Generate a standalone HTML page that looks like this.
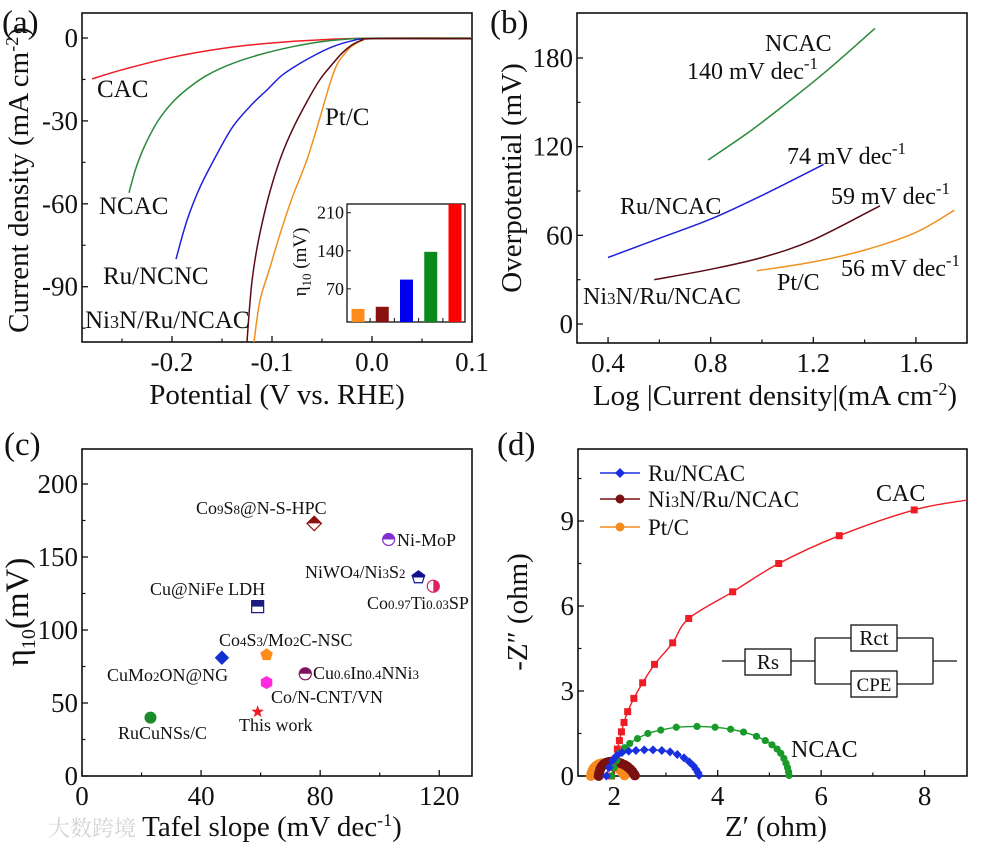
<!DOCTYPE html>
<html><head><meta charset="utf-8"><style>
html,body{margin:0;padding:0;background:#fff;}
svg{display:block;font-family:"Liberation Serif","Noto Serif CJK SC",serif;}
</style></head><body>
<svg id="fig" width="981" height="848" viewBox="0 0 981 848" xmlns="http://www.w3.org/2000/svg"></svg>
<script>
// ---- panel (a) data ----
const aCacX=[-0.28,-0.25,-0.2,-0.15,-0.1,-0.05,0,0.1];
const aCacY=[-14.8,-11.5,-7,-3.8,-1.8,-0.6,-0.1,0];
const aNcacX=[-0.243,-0.236,-0.226,-0.214,-0.2,-0.185,-0.165,-0.14,-0.11,-0.08,-0.05,-0.02,0,0.1];
const aNcacY=[-56,-47,-38,-30,-23.5,-18.5,-13.5,-9.3,-5.8,-3.2,-1.3,-0.3,-0.05,0];
const aRuX=[-0.196,-0.185,-0.172,-0.155,-0.139,-0.12,-0.105,-0.09,-0.072,-0.055,-0.039,-0.02,0,0.1];
const aRuY=[-80,-66,-54,-42,-32,-24,-18.8,-13.5,-9.2,-5.8,-3.1,-1,-0.3,-0.3];
const aNiX=[-0.125,-0.123,-0.12,-0.115,-0.108,-0.1,-0.09,-0.078,-0.065,-0.052,-0.04,-0.03,-0.02,-0.01,0,0.1];
const aNiY=[-110,-100,-88,-76,-64,-53,-42,-32,-23,-15,-9.6,-5.5,-2.5,-0.8,-0.2,-0.3];
const aPtX=[-0.118,-0.112,-0.102,-0.092,-0.08,-0.065,-0.053,-0.042,-0.035,-0.028,-0.022,-0.015,-0.008,0,0.1];
const aPtY=[-110,-95,-83,-71,-58,-44,-30,-16.4,-9.6,-6,-3.5,-1.8,-0.6,-0.2,-0.2];
const insetCats=["Pt/C","Ni3N/Ru/NCAC","Ru/NCAC","NCAC","CAC"];
const insetVals=[33,37,87,138,226];
const insetColors=["#ff8c1a","#8b1010","#0000ee","#0a8a1a","#ff0000"];
const insetTicks=[70,140,210];
// ---- panel (b) data ----
const bNcacX=[0.79,0.95,1.1,1.25,1.44]; const bNcacY=[111,130,150,171,200];
const bRuX=[0.40,0.6,0.8,1.0,1.24]; const bRuY=[45,58,71,87,108];
const bNiX=[0.58,0.8,1.0,1.2,1.46]; const bNiY=[30,37,45,57,80];
const bPtX=[0.98,1.2,1.4,1.6,1.75]; const bPtY=[36,42,50,62,77];
// ---- panel (c) data ----
const cNames=["RuCuNSs/C","CuMo2ON@NG","Cu@NiFe LDH","Co4S3/Mo2C-NSC","Co/N-CNT/VN","This work","Co9S8@N-S-HPC","Cu0.6In0.4NNi3","Ni-MoP","NiWO4/Ni3S2","Co0.97Ti0.03SP"];
const cTafel=[23,47,59,62,62,59,78,75,103,113,118];
const cEta=[40,81,116,83,64,44,173,70,162,136,130];
// ---- panel (d) data ----
const dCacX=[1.95,1.98,2.02,2.06,2.10,2.14,2.19,2.26,2.38,2.55,2.78,3.13,3.44,4.29,5.18,6.35,7.80,8.82];
const dCacY=[0,0.3,0.6,0.95,1.25,1.56,1.89,2.27,2.74,3.29,3.94,4.70,5.56,6.50,7.50,8.48,9.39,9.74];
const dNcacX=[1.95,2.0,2.05,2.1,2.2,2.3,2.45,2.65,2.9,3.2,3.6,3.95,4.25,4.5,4.75,4.92,5.05,5.15,5.22,5.28,5.32,5.35,5.37,5.38];
const dNcacY=[0,0.3,0.55,0.8,1.0,1.15,1.32,1.5,1.62,1.72,1.75,1.72,1.65,1.55,1.4,1.25,1.1,0.95,0.8,0.62,0.45,0.3,0.15,0.02];
const dRuX=[1.85,1.9,1.97,2.05,2.15,2.28,2.42,2.58,2.75,2.92,3.08,3.22,3.35,3.45,3.53,3.58,3.62,3.64];
const dRuY=[0,0.3,0.55,0.72,0.83,0.88,0.9,0.92,0.92,0.9,0.85,0.76,0.64,0.5,0.36,0.24,0.12,0.02];
const dNiX=[1.7,1.71,1.73,1.76,1.8,1.85,1.9,1.96,2.02,2.08,2.14,2.2,2.26,2.31,2.35,2.38,2.4];
const dNiY=[0,0.12,0.24,0.34,0.42,0.47,0.5,0.51,0.5,0.48,0.44,0.39,0.32,0.24,0.16,0.08,0.02];
const dPtX=[1.55,1.56,1.58,1.61,1.65,1.7,1.76,1.82,1.88,1.94,2.0,2.06,2.11,2.15,2.18,2.2];
const dPtY=[0,0.1,0.2,0.29,0.36,0.42,0.45,0.46,0.45,0.42,0.37,0.3,0.22,0.14,0.07,0.02];

const NS="http://www.w3.org/2000/svg";
const svg=document.getElementById('fig');
function mk(tag,attrs,parent){const e=document.createElementNS(NS,tag);for(const k in attrs)e.setAttribute(k,attrs[k]);(parent||svg).appendChild(e);return e;}
function lin(d0,d1,r0,r1){return v=>r0+(v-d0)*(r1-r0)/(d1-d0);}
function smooth(pts){let d="M"+pts[0][0].toFixed(1)+","+pts[0][1].toFixed(1);
 for(let i=0;i<pts.length-1;i++){const p0=pts[i-1]||pts[i],p1=pts[i],p2=pts[i+1],p3=pts[i+2]||p2;
 const c1=[p1[0]+(p2[0]-p0[0])/6,p1[1]+(p2[1]-p0[1])/6],c2=[p2[0]-(p3[0]-p1[0])/6,p2[1]-(p3[1]-p1[1])/6];
 d+=" C"+c1[0].toFixed(1)+","+c1[1].toFixed(1)+" "+c2[0].toFixed(1)+","+c2[1].toFixed(1)+" "+p2[0].toFixed(1)+","+p2[1].toFixed(1);}
 return d;}
function txt(s,x,y,size,anchor,parent){const t=mk('text',{x:x,y:y,'font-size':size,'text-anchor':anchor||'start',fill:'#111'},parent);t.innerHTML=s;return t;}

const TF=27;
function axes(name,box,xs,ys,xt,xl,xm,yt,yl,ym){
 const g=mk('g',{});
 
 
 const fr=mk('rect',{x:box.l,y:box.t,width:box.r-box.l,height:box.b-box.t,fill:'none',stroke:'#111','stroke-width':1.6},g);
 
 
 xt.forEach((v,i)=>{const x=xs(v);mk('line',{x1:x,x2:x,y1:box.b,y2:box.b-6,stroke:'#111','stroke-width':1.3},g);
  const t=txt(xl[i],x,box.b+29,TF,'middle',g);
  
  });
 xm.forEach(v=>{const x=xs(v);mk('line',{x1:x,x2:x,y1:box.b,y2:box.b-3.5,stroke:'#111','stroke-width':1.2},g);});
 yt.forEach((v,i)=>{const y=ys(v);mk('line',{x1:box.l,x2:box.l+6,y1:y,y2:y,stroke:'#111','stroke-width':1.3},g);
  const t=txt(yl[i],box.l-4,y+9,TF,'end',g);
  
  });
 ym.forEach(v=>{const y=ys(v);mk('line',{x1:box.l,x2:box.l+3.5,y1:y,y2:y,stroke:'#111','stroke-width':1.2},g);});
}
function curve(name,X,Y,xs,ys,color,w){const p=mk('path',{d:smooth(X.map((v,i)=>[xs(v),ys(Y[i])])),fill:'none',stroke:color,'stroke-width':w||1.5});
 
 return p;}
function label(name,s,x,y,size,anchor){const t=txt(s,x,y,size,anchor);
 
 return t;}
function rotLabel(name,s,cx,cy,size){const t=mk('text',{x:0,y:0,'font-size':size,'text-anchor':'middle',fill:'#111',transform:'translate('+cx+','+cy+') rotate(-90)'});t.innerHTML=s;
 
 return t;}
const sup1='<tspan font-size="17" dy="-10">-1</tspan>';

// ===== Panel (a) =====
const A={l:82,r:472,t:13,b:342};
const axA=lin(-0.29,0.1,82,472), ayA=lin(0,-110,38,342);
const clipA=mk('clipPath',{id:'clipA'});mk('rect',{x:A.l,y:A.t,width:A.r-A.l,height:A.b-A.t},clipA);
axes('panel-a',A,axA,ayA,[-0.2,-0.1,0,0.1],["-0.2","-0.1","0.0","0.1"],[-0.25,-0.15,-0.05,0.05],[0,-30,-60,-90],["0","-30","-60","-90"],[-15,-45,-75,-105]);
const gA=mk('g',{'clip-path':'url(#clipA)'});
gA.appendChild(curve('curve-a-cac',aCacX,aCacY,axA,ayA,'#ee1c24'));
gA.appendChild(curve('curve-a-ncac',aNcacX,aNcacY,axA,ayA,'#2a8a3a'));
gA.appendChild(curve('curve-a-ru-ncac',aRuX,aRuY,axA,ayA,'#2020dd'));
gA.appendChild(curve('curve-a-pt-c',aPtX,aPtY,axA,ayA,'#f09020'));
gA.appendChild(curve('curve-a-ni3n',aNiX,aNiY,axA,ayA,'#5a0a14'));
label('label-a-cac','CAC',97,97,25);
label('label-a-ncac','NCAC',99,214,25);
label('label-a-ru','Ru/NCNC',103,284,25);
label('label-a-ni3n','Ni<tspan font-size="18">3</tspan>N/Ru/NCAC',85,328,25);
label('label-a-ptc','Pt/C',325,125,25);
rotLabel('y-axis-title-a','Current density (mA cm<tspan font-size="18" dy="-10">-2</tspan><tspan dy="10">)</tspan>',28,180,29);
label('x-axis-title-a','Potential (V vs. RHE)',277,404,29,'middle');
label('panel-label-a','(a)',2,33,33);
// inset
const I={l:347,r:465,t:204,b:322};
const iy=lin(9,226,322,204);
const ins=mk('rect',{x:I.l,y:I.t,width:I.r-I.l,height:I.b-I.t,fill:'#fff',stroke:'#111','stroke-width':1.3});


const ixc=lin(0,4,358,455);
insetVals.forEach((v,i)=>{const top=Math.max(iy(v),I.t);const r=mk('rect',{x:ixc(i)-6.5,y:top,width:13,height:I.b-top,fill:insetColors[i]});
 
 });
insetTicks.forEach(v=>{const y=iy(v);mk('line',{x1:I.l,x2:I.l+4,y1:y,y2:y,stroke:'#111'});
 const t=txt(String(v),I.l-3,y+6,18,'end');
 
 });
[0,1,2,3].forEach(i=>{const x=(ixc(i)+ixc(i+1))/2;mk('line',{x1:x,x2:x,y1:I.b,y2:I.b-4,stroke:'#111'});});
rotLabel('inset-y-title','η<tspan font-size="13" dy="5">10</tspan><tspan dy="-5"> (mV)</tspan>',306,262,19);

// ===== Panel (b) =====
const B={l:577,r:967,t:13,b:343};
const bx=lin(0.279,1.799,577,967), by=lin(0,180,324,58);
axes('panel-b',B,bx,by,[0.4,0.8,1.2,1.6],["0.4","0.8","1.2","1.6"],[0.6,1.0,1.4],[0,60,120,180],["0","60","120","180"],[30,90,150]);
curve('curve-b-ncac',bNcacX,bNcacY,bx,by,'#2a8a3a');
curve('curve-b-ru-ncac',bRuX,bRuY,bx,by,'#2020dd');
curve('curve-b-ni3n',bNiX,bNiY,bx,by,'#5a0a14');
curve('curve-b-pt-c',bPtX,bPtY,bx,by,'#f09020');
label('label-b-ncac','NCAC',765,51,24);
label('label-b-140','140 mV dec'+sup1,687,79,24);
label('label-b-74','74 mV dec'+sup1,787,164,24);
label('label-b-ru','Ru/NCAC',620,214,24);
label('label-b-59','59 mV dec'+sup1,831,204,24);
label('label-b-ni3n','Ni<tspan font-size="17">3</tspan>N/Ru/NCAC',583,304,24);
label('label-b-ptc','Pt/C',777,290,24);
label('label-b-56','56 mV dec'+sup1,841,276,24);
rotLabel('y-axis-title-b','Overpotential (mV)',521,178,29);
label('x-axis-title-b','Log |Current density|(mA cm<tspan font-size="18" dy="-10">-2</tspan><tspan dy="10">)</tspan>',775,405,29,'middle');
label('panel-label-b','(b)',490,33,33);

// ===== Panel (c) =====
const C={l:82,r:472,t:449,b:776};
const cx=lin(0,131,82,472), cy=lin(0,200,776,484);
axes('panel-c',C,cx,cy,[0,40,80,120],["0","40","80","120"],[20,60,100],[0,50,100,150,200],["0","50","100","150","200"],[25,75,125,175]);
const cShapes=['circle','diamond','square','pentagon','hexagon','star','diamond','circle','circle','pentagon','circle'];
const cColors=['#1a8a2a','#1030d0','#1a1a80','#ff8c1a','#ff2ae0','#ee1c24','#8b1010','#801060','#8030d0','#101090','#e02060'];
const cHalf=[0,0,1,0,0,0,1,1,1,1,2];
function shapePts(s,x,y,r){const pts=[];
 if(s==='diamond')return [[x,y-r*1.2],[x+r*1.2,y],[x,y+r*1.2],[x-r*1.2,y]];
 if(s==='square')return [[x-r,y-r],[x+r,y-r],[x+r,y+r],[x-r,y+r]];
 const n=s==='pentagon'?5:s==='hexagon'?6:10;
 for(let i=0;i<n;i++){const a=-Math.PI/2+i*2*Math.PI/n;const rr=(s==='star'&&i%2)?r*0.45:r*1.1;pts.push([x+rr*Math.cos(a),y+rr*Math.sin(a)]);}
 return pts;}
cTafel.forEach((v,i)=>{const x=cx(v),y=cy(cEta[i]),r=6;const s=cShapes[i];
 const clip=mk('clipPath',{id:'cclip'+i});
 if(cHalf[i]===2)mk('rect',{x:x,y:y-10,width:10,height:20},clip);else mk('rect',{x:x-10,y:y-10,width:20,height:10},clip);
 const g=mk('g',{});
 
 
 const draw=(attrs)=>s==='circle'?mk('circle',Object.assign({cx:x,cy:y,r:r},attrs),g):mk('polygon',Object.assign({points:shapePts(s,x,y,r).map(p=>p.join(',')).join(' ')},attrs),g);
 if(cHalf[i]){draw({fill:'#fff',stroke:cColors[i],'stroke-width':1.2});draw({fill:cColors[i],'clip-path':'url(#cclip'+i+')'});}
 else draw({fill:cColors[i]});
});
const sb=t=>'<tspan font-size="13">'+t+'</tspan>';
label('label-c-co9s8','Co'+sb('9')+'S'+sb('8')+'@N-S-HPC',196,514,18);
label('label-c-nimop','Ni-MoP',397,546,18);
label('label-c-niwo4','NiWO'+sb('4')+'/Ni'+sb('3')+'S'+sb('2'),305,578,18);
label('label-c-coti','Co'+sb('0.97')+'Ti'+sb('0.03')+'SP',367,609,18);
label('label-c-cunife','Cu@NiFe LDH',150,595,18);
label('label-c-co4s3','Co'+sb('4')+'S'+sb('3')+'/Mo'+sb('2')+'C-NSC',219,646,18);
label('label-c-cumo2on','CuMo'+sb('2')+'ON@NG',107,681,18);
label('label-c-cuin','Cu'+sb('0.6')+'In'+sb('0.4')+'NNi'+sb('3'),313,679,18);
label('label-c-convn','Co/N-CNT/VN',271,703,18);
label('label-c-thiswork','This work',239,731,18);
label('label-c-rucu','RuCuNSs/C',118,739,18);
rotLabel('y-axis-title-c','η<tspan font-size="20" dy="7">10</tspan><tspan dy="-7">(mV)</tspan>',28,612,33);
label('x-axis-title-c','Tafel slope (mV dec<tspan font-size="18" dy="-10">-1</tspan><tspan dy="10">)</tspan>',272,836,29,'middle');
label('panel-label-c','(c)',4,455,33);
const wm=label('watermark','大数跨境',48,836,22);wm.setAttribute('fill','#d4d4d4');

// ===== Panel (d) =====
const D={l:578,r:967,t:449,b:776};
const dx=lin(1.30,8.82,578,967), dy=lin(0,9,776,521);
axes('panel-d',D,dx,dy,[2,4,6,8],["2","4","6","8"],[3,5,7],[0,3,6,9],["0","3","6","9"],[1.5,4.5,7.5,10.5]);
function series(name,X,Y,color,marker,skipLast,mr){
 const g=mk('g',{});
 
 
 g.appendChild(curve(name+'-line',X,Y,dx,dy,color,1.4));
 X.forEach((v,i)=>{if(skipLast&&i===X.length-1)return;const x=dx(v),y=dy(Y[i]);
  if(marker==='square')mk('rect',{x:x-3.5,y:y-3.5,width:7,height:7,fill:color},g);
  else if(marker==='diamond')mk('polygon',{points:[x,y-4.5,x+4.5,y,x,y+4.5,x-4.5,y].join(' '),fill:color},g);
  else mk('circle',{cx:x,cy:y,r:mr||3.6,fill:color},g);});
}
series('series-d-pt-c',dPtX,dPtY,'#f58a1f','circle',false,5);
series('series-d-ni3n',dNiX,dNiY,'#7a1010','circle',false,5);
series('series-d-cac',dCacX,dCacY,'#ee1c24','square',true);
series('series-d-ncac',dNcacX,dNcacY,'#1a9a2a','circle');
series('series-d-ru-ncac',dRuX,dRuY,'#1a30e0','diamond');
// legend
const leg=[['Ru/NCAC','#1a30e0','diamond',473],['Ni<tspan font-size="16">3</tspan>N/Ru/NCAC','#7a1010','circle',499],['Pt/C','#f58a1f','circle',527]];
leg.forEach((e,i)=>{const g=mk('g',{});
 
 
 mk('line',{x1:600,x2:640,y1:e[3],y2:e[3],stroke:e[1],'stroke-width':1.6},g);
 if(e[2]==='diamond')mk('polygon',{points:[620,e[3]-5,625,e[3],620,e[3]+5,615,e[3]].join(' '),fill:e[1]},g);
 else mk('circle',{cx:620,cy:e[3],r:4.5,fill:e[1]},g);
 txt(e[0],648,e[3]+8,23,'start',g);});
label('label-d-cac','CAC',876,501,24);
label('label-d-ncac','NCAC',791,757,24);
// circuit
const cg=mk('g',{stroke:'#111','stroke-width':1.3,fill:'none'});


mk('line',{x1:722,x2:745,y1:661,y2:661},cg);
mk('rect',{x:745,y:649,width:46,height:26,fill:'#fff'},cg);
mk('line',{x1:791,x2:815,y1:661,y2:661},cg);
mk('line',{x1:815,x2:815,y1:638,y2:684},cg);
mk('line',{x1:933,x2:933,y1:638,y2:684},cg);
mk('line',{x1:815,x2:851,y1:638,y2:638},cg);mk('line',{x1:897,x2:933,y1:638,y2:638},cg);
mk('line',{x1:815,x2:851,y1:684,y2:684},cg);mk('line',{x1:897,x2:933,y1:684,y2:684},cg);
mk('rect',{x:851,y:625,width:46,height:26,fill:'#fff'},cg);
mk('rect',{x:851,y:671,width:46,height:26,fill:'#fff'},cg);
mk('line',{x1:933,x2:957,y1:661,y2:661},cg);
label('circuit-rs','Rs',768,669,21,'middle');
label('circuit-rct','Rct',874,645,21,'middle');
label('circuit-cpe','CPE',874,691,19,'middle');
rotLabel('y-axis-title-d','-Z″ (ohm)',527,612,29);
label('x-axis-title-d','Z′ (ohm)',776,836,29,'middle');
label('panel-label-d','(d)',497,455,33);
</script>
</body></html>
